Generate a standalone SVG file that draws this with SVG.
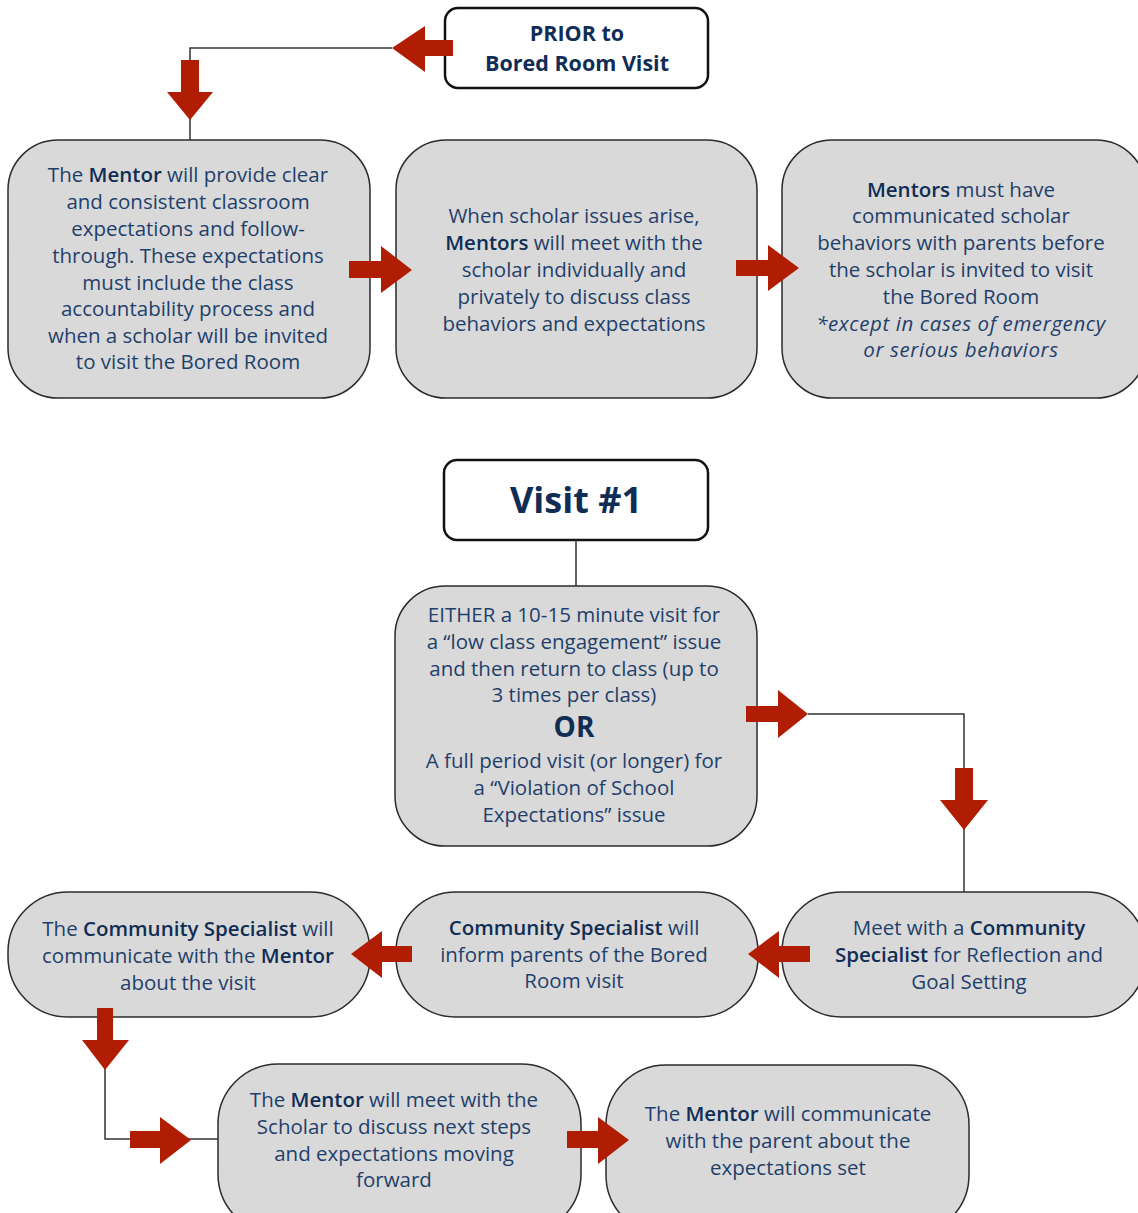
<svg xmlns="http://www.w3.org/2000/svg" width="1138" height="1213" viewBox="0 0 1138 1213">
<style>
.hdr{fill:#fff;stroke:#111;stroke-width:2.5}
.box{fill:#d9d9d9;stroke:#2b2b2b;stroke-width:1.5}
.t{font-family:"Open Sans","Liberation Sans",sans-serif;font-size:20.5px;fill:#1f3f6b;text-anchor:middle}
.b{font-weight:600;fill:#0f2d55}
.i{font-style:italic;letter-spacing:0.6px}
.h{font-family:"Open Sans","Liberation Sans",sans-serif;font-weight:bold;fill:#0f2d55;text-anchor:middle}
.ln{fill:none;stroke:#333;stroke-width:1.5}
.ar{fill:#b11d02}
</style>
<rect width="1138" height="1213" fill="#fff"/>
<g id="prior">
<rect class="hdr" x="445" y="8" width="263" height="80" rx="13"/>
<text class="h" font-size="21.5" x="577" y="41">PRIOR to</text>
<text class="h" font-size="21.5" x="577" y="71">Bored Room Visit</text>
</g>
<g id="mentorExpect">
<rect class="box" x="8" y="140" width="362" height="258" rx="50"/>
<text class="t" x="188"><tspan x="188" y="182">The <tspan class="b">Mentor</tspan> will provide clear</tspan><tspan x="188" y="209">and consistent classroom</tspan><tspan x="188" y="236">expectations and follow-</tspan><tspan x="188" y="263">through. These expectations</tspan><tspan x="188" y="290">must include the class</tspan><tspan x="188" y="316">accountability process and</tspan><tspan x="188" y="343">when a scholar will be invited</tspan><tspan x="188" y="369">to visit the Bored Room</tspan></text>
</g>
<g id="mentorsMeet">
<rect class="box" x="396" y="140" width="361" height="258" rx="50"/>
<text class="t" x="574"><tspan x="574" y="223">When scholar issues arise,</tspan><tspan x="574" y="250"><tspan class="b">Mentors</tspan> will meet with the</tspan><tspan x="574" y="277">scholar individually and</tspan><tspan x="574" y="304">privately to discuss class</tspan><tspan x="574" y="331">behaviors and expectations</tspan></text>
</g>
<g id="mentorsParents">
<rect class="box" x="782" y="140" width="364" height="258" rx="50"/>
<text class="t" x="961"><tspan x="961" y="197"><tspan class="b">Mentors</tspan> must have</tspan><tspan x="961" y="223">communicated scholar</tspan><tspan x="961" y="250">behaviors with parents before</tspan><tspan x="961" y="277">the scholar is invited to visit</tspan><tspan x="961" y="304">the Bored Room</tspan><tspan x="961" y="331" class="i">*except in cases of emergency</tspan><tspan x="961" y="357" class="i">or serious behaviors</tspan></text>
</g>
<g id="visit1">
<rect class="hdr" x="444" y="460" width="264" height="80" rx="13"/>
<text class="h" font-size="36" x="576" y="513">Visit #1</text>
</g>
<g id="either">
<rect class="box" x="395" y="586" width="362" height="260" rx="50"/>
<text class="t" x="574"><tspan x="574" y="622">EITHER a 10-15 minute visit for</tspan><tspan x="574" y="649">a “low class engagement” issue</tspan><tspan x="574" y="676">and then return to class (up to</tspan><tspan x="574" y="702">3 times per class)</tspan><tspan x="574" y="737" font-weight="bold" fill="#0f2d55" font-size="28">OR</tspan><tspan x="574" y="768">A full period visit (or longer) for</tspan><tspan x="574" y="795">a “Violation of School</tspan><tspan x="574" y="822">Expectations” issue</tspan></text>
</g>
<g id="meetCS">
<rect class="box" x="782" y="892" width="364" height="125" rx="60"/>
<text class="t" x="969"><tspan x="969" y="935">Meet with a <tspan class="b">Community</tspan></tspan><tspan x="969" y="962"><tspan class="b">Specialist</tspan> for Reflection and</tspan><tspan x="969" y="989">Goal Setting</tspan></text>
</g>
<g id="csInform">
<rect class="box" x="396" y="892" width="362" height="125" rx="60"/>
<text class="t" x="574"><tspan x="574" y="935"><tspan class="b">Community Specialist</tspan> will</tspan><tspan x="574" y="962">inform parents of the Bored</tspan><tspan x="574" y="988">Room visit</tspan></text>
</g>
<g id="csMentor">
<rect class="box" x="8" y="892" width="362" height="125" rx="60"/>
<text class="t" x="188"><tspan x="188" y="936">The <tspan class="b">Community Specialist</tspan> will</tspan><tspan x="188" y="963">communicate with the <tspan class="b">Mentor</tspan></tspan><tspan x="188" y="990">about the visit</tspan></text>
</g>
<g id="mentorScholar">
<rect class="box" x="218" y="1064" width="363" height="170" rx="60"/>
<text class="t" x="394"><tspan x="394" y="1107">The <tspan class="b">Mentor</tspan> will meet with the</tspan><tspan x="394" y="1134">Scholar to discuss next steps</tspan><tspan x="394" y="1161">and expectations moving</tspan><tspan x="394" y="1187">forward</tspan></text>
</g>
<g id="mentorParent">
<rect class="box" x="606" y="1065" width="363" height="170" rx="60"/>
<text class="t" x="788"><tspan x="788" y="1121">The <tspan class="b">Mentor</tspan> will communicate</tspan><tspan x="788" y="1148">with the parent about the</tspan><tspan x="788" y="1175">expectations set</tspan></text>
</g>
<g id="connectors">
<polyline class="ln" points="392,48 190,48 190,140"/>
<polyline class="ln" points="576,540 576,586"/>
<polyline class="ln" points="808,714 964,714 964,892"/>
<polyline class="ln" points="105,1017 105,1139 218,1139"/>
<polygon class="ar" points="453,40 425,40 425,26 392,48 425,72 425,56 453,56"/>
<polygon class="ar" points="181,60 199,60 199,92 213,92 190,120 167,92 181,92"/>
<polygon class="ar" points="349,261 381,261 381,246 412,270 381,293 381,278 349,278"/>
<polygon class="ar" points="736,260 768,260 768,245 799,268 768,291 768,276 736,276"/>
<polygon class="ar" points="746,706 778,706 778,690 808,714 778,738 778,722 746,722"/>
<polygon class="ar" points="955,768 973,768 973,800 988,800 964,830 940,800 955,800"/>
<polygon class="ar" points="810,946 779,946 779,931 748,954 779,978 779,962 810,962"/>
<polygon class="ar" points="412,946 382,946 382,931 351,954 382,978 382,962 412,962"/>
<polygon class="ar" points="97,1008 113,1008 113,1040 129,1040 105,1070 82,1040 97,1040"/>
<polygon class="ar" points="130,1131 160,1131 160,1117 191,1140 160,1164 160,1148 130,1148"/>
<polygon class="ar" points="567,1131 598,1131 598,1117 629,1140 598,1164 598,1148 567,1148"/>
</g>
</svg>
